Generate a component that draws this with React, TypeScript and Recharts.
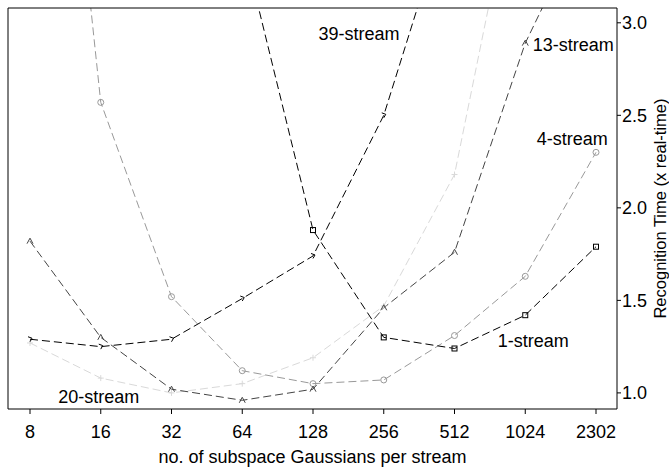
import React from 'react';
import { LineChart, Line, XAxis, YAxis, ReferenceDot } from 'recharts';

const categories = ['8', '16', '32', '64', '128', '256', '512', '1024', '2302'];

// recognition time (x real-time) per stream configuration
const oneStream = [null, null, null, 3.44, 1.88, 1.3, 1.24, 1.42, 1.79];
const fourStream = [6.2, 2.57, 1.52, 1.12, 1.05, 1.07, 1.31, 1.63, 2.3];
const thirteenStream = [1.82, 1.3, 1.02, 0.96, 1.02, 1.46, 1.76, 2.89, 3.68];
const twentyStream = [1.27, 1.08, 1.0, 1.05, 1.19, 1.47, 2.18, 4.06, null];
const thirtyNineStream = [1.29, 1.25, 1.29, 1.51, 1.74, 2.5, 3.72, null, null];

const yTicks = [1.0, 1.5, 2.0, 2.5, 3.0];

const data = categories.map((cat, i) => ({
    cat,
    s1: oneStream[i],
    s4: fourStream[i],
    s13: thirteenStream[i],
    s20: twentyStream[i],
    s39: thirtyNineStream[i],
}));

const FONT = '"Liberation Sans", Arial, Helvetica, sans-serif';
const DASH = '8 4';

// marker shapes
const square = (color: string) => (props: any) => {
    const { cx, cy, index } = props;
    if (cx == null || cy == null) return <g key={index} />;
    return <rect key={index} x={cx - 2.5} y={cy - 2.5} width={5} height={5} fill="none" stroke={color} strokeWidth={1} />;
};
const circle = (color: string) => (props: any) => {
    const { cx, cy, index } = props;
    if (cx == null || cy == null) return <g key={index} />;
    return <circle key={index} cx={cx} cy={cy} r={3} fill="none" stroke={color} strokeWidth={1} />;
};
const triangle = (color: string) => (props: any) => {
    const { cx, cy, index } = props;
    if (cx == null || cy == null) return <g key={index} />;
    return (
        <path key={index} d={`M${cx - 3},${cy + 2.5} L${cx},${cy - 3} L${cx + 3},${cy + 2.5}`} fill="none" stroke={color} strokeWidth={1} />
    );
};
const plus = (color: string) => (props: any) => {
    const { cx, cy, index } = props;
    if (cx == null || cy == null) return <g key={index} />;
    return <path key={index} d={`M${cx - 3},${cy} H${cx + 3} M${cx},${cy - 3} V${cy + 3}`} stroke={color} strokeWidth={1} />;
};
const diamond = (color: string) => (props: any) => {
    const { cx, cy, index } = props;
    if (cx == null || cy == null) return <g key={index} />;
    return (
        <path key={index} d={`M${cx - 2},${cy - 2.5} L${cx + 2},${cy - 1} L${cx},${cy + 2.5}`} fill="none" stroke={color} strokeWidth={1} />
    );
};

const StreamLabel = ({ viewBox, text, dx = 0 }: any) => {
    if (!viewBox) return null;
    return (
        <text
            x={viewBox.x + (viewBox.width || 0) / 2 + dx}
            y={viewBox.y + (viewBox.height || 0) / 2}
            textAnchor="middle"
            dominantBaseline="central"
            fontFamily={FONT}
            fontSize={18}
            fill="#000"
        >
            {text}
        </text>
    );
};

const XTitle = ({ viewBox }: any) => (
    <text x={viewBox.x + viewBox.width / 2} y={viewBox.y + 54} textAnchor="middle" fontFamily={FONT} fontSize={18} fill="#000">
        no. of subspace Gaussians per stream
    </text>
);

const YTitle = ({ viewBox }: any) => {
    const x = viewBox.x + 43;
    const y = viewBox.y + viewBox.height / 2;
    return (
        <text x={x} y={y} transform={`rotate(-90, ${x}, ${y})`} textAnchor="middle" dominantBaseline="central" fontFamily={FONT} fontSize={16.5} fill="#000">
            Recognition Time (x real-time)
        </text>
    );
};

export default function App() {
    const tickStyle = { fontFamily: FONT, fontSize: 18, fill: '#000' };
    return (
        <div style={{ position: 'absolute', left: 0, top: 0, background: '#fff' }}>
            <LineChart width={669} height={468} data={data} margin={{ top: 7, right: 0, bottom: 0, left: 7 }}>
                <XAxis
                    dataKey="cat"
                    padding={{ left: 22, right: 21 }}
                    height={59}
                    tickSize={5}
                    tickMargin={11}
                    tick={tickStyle}
                    stroke="#000"
                    label={<XTitle />}
                />
                <XAxis xAxisId="top" orientation="top" dataKey="cat" height={1} tick={false} tickLine={false} stroke="#000" />
                <YAxis
                    orientation="right"
                    width={52}
                    domain={[0.913, 3.08]}
                    allowDataOverflow
                    ticks={yTicks}
                    tickFormatter={(v: number) => v.toFixed(1)}
                    tickSize={4}
                    tickMargin={1}
                    tick={tickStyle}
                    stroke="#000"
                    label={<YTitle />}
                />
                <YAxis yAxisId="left" orientation="left" width={1} domain={[0, 1]} tick={false} tickLine={false} stroke="#000" />

                <Line dataKey="s20" stroke="#d9d9d9" strokeDasharray={DASH} strokeWidth={1} dot={plus('#d9d9d9')} isAnimationActive={false} />
                <Line dataKey="s4" stroke="#999999" strokeDasharray={DASH} strokeWidth={1} dot={circle('#999999')} isAnimationActive={false} />
                <Line dataKey="s13" stroke="#444444" strokeDasharray={DASH} strokeWidth={1} dot={triangle('#444444')} isAnimationActive={false} />
                <Line dataKey="s1" stroke="#000" strokeDasharray={DASH} strokeWidth={1} dot={square('#000')} isAnimationActive={false} />
                <Line dataKey="s39" stroke="#000" strokeDasharray={DASH} strokeWidth={1} dot={diamond('#000')} isAnimationActive={false} />

                <ReferenceDot x="128" y={2.94} r={0} label={<StreamLabel text="39-stream" dx={46} />} />
                <ReferenceDot x="1024" y={2.88} r={0} label={<StreamLabel text="13-stream" dx={48} />} />
                <ReferenceDot x="1024" y={2.37} r={0} label={<StreamLabel text="4-stream" dx={47} />} />
                <ReferenceDot x="1024" y={1.28} r={0} label={<StreamLabel text="1-stream" dx={8} />} />
                <ReferenceDot x="16" y={0.98} r={0} label={<StreamLabel text="20-stream" dx={-2} />} />
            </LineChart>
        </div>
    );
}
